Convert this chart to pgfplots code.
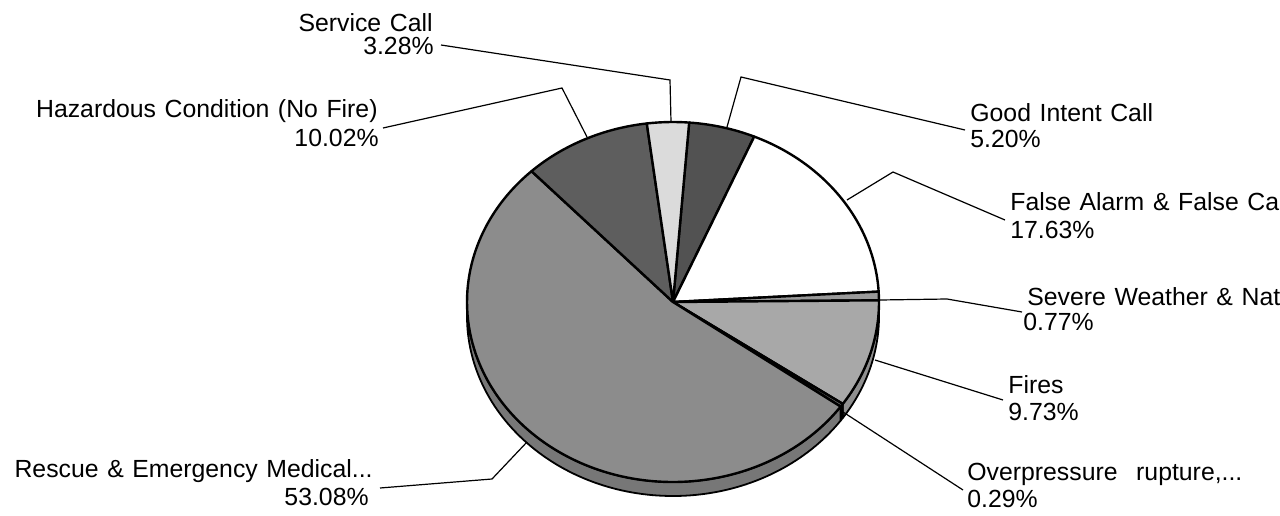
\documentclass[border=0pt]{standalone}
\usepackage{pgfplots}
\pgfplotsset{compat=1.18}
\usepackage{pgfplotstable}
\usepackage{fontspec}
\setmainfont{Liberation Sans}[WordSpace=1.25]

\definecolor{cGood}{gray}{0.32}
\definecolor{cFalse}{gray}{1.0}
\definecolor{cSevere}{gray}{0.60}
\definecolor{cFires}{gray}{0.66}
\definecolor{cOver}{gray}{0.45}
\definecolor{cRescue}{gray}{0.55}
\definecolor{cHazard}{gray}{0.37}
\definecolor{cService}{gray}{0.86}

% shares in %, clockwise from the top
\pgfplotstableread{
share col
5.20 cGood
17.63 cFalse
0.77 cSevere
9.73 cFires
0.29 cOver
53.08 cRescue
10.02 cHazard
3.28 cService
}\pietable

\newcommand{\cx}{673}
\newcommand{\cy}{213}

\begin{document}
\begin{tikzpicture}
\useasboundingbox (0,0) rectangle (640pt,257.5pt);
\clip (0,0) rectangle (640pt,257.5pt);
\begin{axis}[
  scale only axis, width=640pt, height=257.5pt,
  xmin=0, xmax=1280, ymin=0, ymax=515,
  hide axis, clip=false, anchor=south west, at={(0,0)},
]
\pgfplotstablegetrowsof{\pietable}
\pgfmathtruncatemacro{\nlast}{\pgfplotsretval-1}
% side (rim) of the pie
\xdef\angA{85.5}
\pgfplotsforeachungrouped \rowk in {0,...,\nlast}{%
  \pgfplotstablegetelem{\rowk}{share}\of{\pietable}\let\val\pgfplotsretval
  \pgfplotstablegetelem{\rowk}{col}\of{\pietable}\let\scol\pgfplotsretval
  \pgfmathsetmacro{\angB}{\angA-3.6*\val}%
  \pgfmathsetmacro{\rimhi}{min(\angA,0)}%
  \pgfmathsetmacro{\rimlo}{max(\angB,-180)}%
  \pgfmathtruncatemacro{\rimok}{\rimhi>\rimlo}%
  \ifnum\rimok=1
    \edef\temp{\noexpand\filldraw[fill=\scol!85!black, draw=black, line width=0.9pt, line join=round]
      (axis cs:\cx,\cy) ++(\rimhi:103pt and 90pt) arc[start angle=\rimhi, end angle=\rimlo, x radius=103pt, y radius=90pt]
      -- ++(0,-7pt) arc[start angle=\rimlo, end angle=\rimhi, x radius=103pt, y radius=90pt] -- cycle;}%
    \temp
  \fi
  \xdef\angA{\angB}%
}
% top face of the pie
\xdef\angA{85.5}
\pgfplotsforeachungrouped \rowk in {0,...,\nlast}{%
  \pgfplotstablegetelem{\rowk}{share}\of{\pietable}\let\val\pgfplotsretval
  \pgfplotstablegetelem{\rowk}{col}\of{\pietable}\let\scol\pgfplotsretval
  \pgfmathsetmacro{\angB}{\angA-3.6*\val}%
  \edef\temp{\noexpand\filldraw[fill=\scol, draw=black, line width=1.2pt, line join=round]
    (axis cs:\cx,\cy) -- ++(\angA:103pt and 90pt) arc[start angle=\angA, end angle=\angB, x radius=103pt, y radius=90pt] -- cycle;}%
  \temp
  \xdef\angA{\angB}%
}
% leader lines
\addplot[black, line width=0.6pt, mark=none] coordinates {(441,470) (670,435) (671,393)};
\addplot[black, line width=0.6pt, mark=none] coordinates {(383,387) (562,427) (587,378)};
\addplot[black, line width=0.6pt, mark=none] coordinates {(727,388) (741,438) (965,385)};
\addplot[black, line width=0.6pt, mark=none] coordinates {(847,315) (893,343) (1005,295)};
\addplot[black, line width=0.6pt, mark=none] coordinates {(880,215) (947,216) (1022,203)};
\addplot[black, line width=0.6pt, mark=none] coordinates {(875,155) (1003,115)};
\addplot[black, line width=0.6pt, mark=none] coordinates {(843,103) (963,25)};
\addplot[black, line width=0.6pt, mark=none] coordinates {(527,73) (492,36) (380,27)};
% labels
\tikzset{lbl/.style={inner sep=0pt, font=\fontsize{12.4pt}{13pt}\selectfont}}
\node[lbl, anchor=base east] at (axis cs:433,483) {Service Call};
\node[lbl, anchor=base east] at (axis cs:434,460) {3.28\%};
\node[lbl, anchor=base east] at (axis cs:378,397) {Hazardous Condition (No Fire)};
\node[lbl, anchor=base east] at (axis cs:379,368) {10.02\%};
\node[lbl, anchor=base east] at (axis cs:373,38) {Rescue \& Emergency Medical...};
\node[lbl, anchor=base east] at (axis cs:369,10) {53.08\%};
\node[lbl, anchor=base west] at (axis cs:970,393) {Good Intent Call};
\node[lbl, anchor=base west] at (axis cs:970,367) {5.20\%};
\node[lbl, anchor=base west] at (axis cs:1010,304) {False Alarm \& False Call};
\node[lbl, anchor=base west] at (axis cs:1010,277) {17.63\%};
\node[lbl, anchor=base west] at (axis cs:1027,210) {Severe Weather \& Natural Disaster};
\node[lbl, anchor=base west] at (axis cs:1023,185) {0.77\%};
\node[lbl, anchor=base west] at (axis cs:1008,122) {Fires};
\node[lbl, anchor=base west] at (axis cs:1008,95) {9.73\%};
\node[lbl, anchor=base west] at (axis cs:967,35) {Overpressure\hspace{5pt} rupture,...};
\node[lbl, anchor=base west] at (axis cs:967,8) {0.29\%};
\end{axis}
\end{tikzpicture}
\end{document}
